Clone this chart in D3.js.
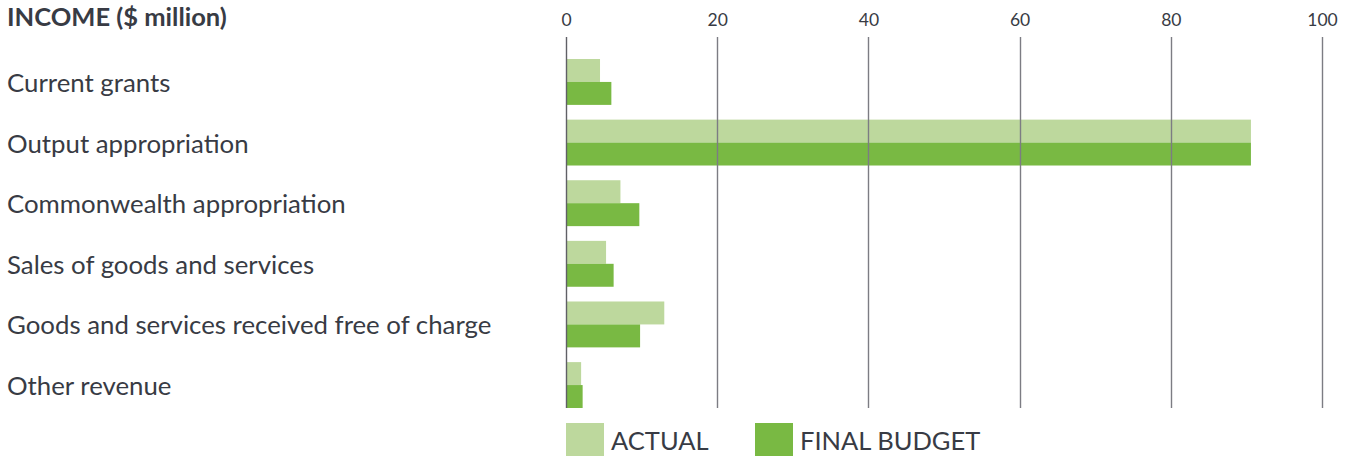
<!DOCTYPE html>
<html>
<head>
<meta charset="utf-8">
<script src="https://cdn.jsdelivr.net/npm/d3@7"></script>
<style>
  html, body { margin: 0; padding: 0; background: #fff; }
  svg { display: block; font-family: Lato, "Open Sans", sans-serif; }
</style>
</head>
<body>
<svg id="chart" width="1351" height="456"></svg>
<script>
const categories = [
  "Current grants",
  "Output appropriation",
  "Commonwealth appropriation",
  "Sales of goods and services",
  "Goods and services received free of charge",
  "Other revenue"
];
const actual = [4.5, 90.6, 7.2, 5.3, 13.0, 2.0];
const finalBudget = [6.0, 90.6, 9.7, 6.3, 9.8, 2.2];
const tickValues = [0, 20, 40, 60, 80, 100];
const seriesNames = ["ACTUAL", "FINAL BUDGET"];
const title = "INCOME ($ million)";

const colors = ["#bdd89d", "#79b943"];
const textColor = "#383b44";

const svg = d3.select("#chart");

const x = d3.scaleLinear().domain([0, 100]).range([566, 1322]);
const y = d3.scaleBand().domain(categories).range([59, 408]).paddingInner(0.243).paddingOuter(0);
const sub = d3.scaleBand().domain([0, 1]).range([0, y.bandwidth()]);

// title
svg.append("text")
  .attr("x", 7).attr("y", 26)
  .attr("font-size", 25.5).attr("font-weight", 700)
  .attr("fill", textColor)
  .text(title);

// bars
const g = svg.append("g");
categories.forEach((c, i) => {
  [actual[i], finalBudget[i]].forEach((v, j) => {
    g.append("rect")
      .attr("x", x(0))
      .attr("y", y(c) + sub(j))
      .attr("width", x(v) - x(0))
      .attr("height", sub.bandwidth())
      .attr("fill", colors[j]);
  });
});

// tick labels via axis
const axis = d3.axisTop(x).tickValues(tickValues).tickSize(0).tickPadding(0).tickFormat(d3.format("d"));
const ax = svg.append("g").attr("transform", "translate(0,26)").call(axis);
ax.select(".domain").remove();
ax.selectAll("text")
  .attr("font-family", "Lato, sans-serif")
  .attr("font-size", 17.5)
  .attr("fill", textColor)
  .attr("dy", 0);

const grid = svg.append("g");
grid.selectAll("line").data(tickValues).join("line")
  .attr("x1", d => Math.round(x(d)) + 0.5)
  .attr("x2", d => Math.round(x(d)) + 0.5)
  .attr("y1", 37).attr("y2", 408)
  .attr("stroke", d => d === 0 ? "#606066" : "#7c7c83")
  .attr("stroke-width", 1.4);

// category labels
svg.append("g").selectAll("text").data(categories).join("text")
  .attr("x", 7)
  .attr("y", d => y(d) + y.bandwidth() / 2 + 1)
  .attr("dy", "0.35em")
  .attr("font-size", 25.8)
  .attr("fill", textColor)
  .text(d => d);

// legend
const legendX = [566, 755];
const leg = svg.append("g");
seriesNames.forEach((s, j) => {
  leg.append("rect")
    .attr("x", legendX[j]).attr("y", 423)
    .attr("width", 38).attr("height", 33)
    .attr("fill", colors[j]);
  leg.append("text")
    .attr("x", legendX[j] + 45).attr("y", 450)
    .attr("font-size", 25.5)
    .attr("fill", textColor)
    .text(s);
});
</script>
</body>
</html>
